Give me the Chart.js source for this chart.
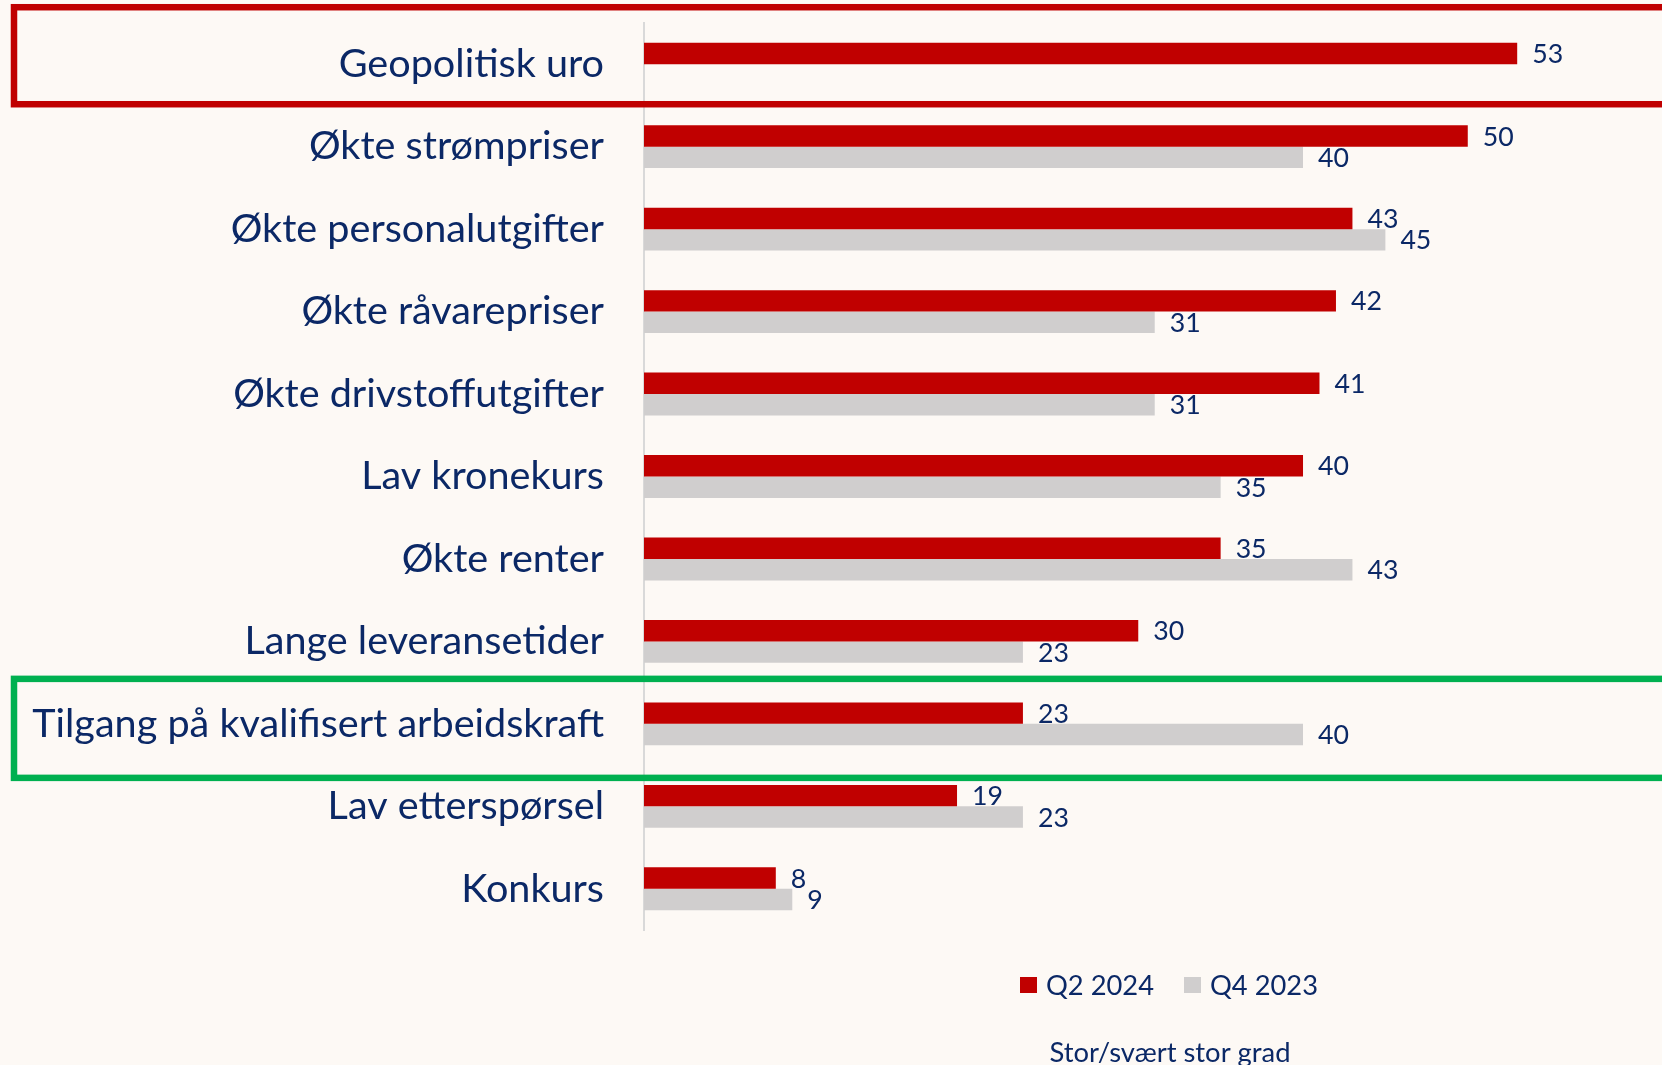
<!DOCTYPE html>
<html>
<head>
<meta charset="utf-8">
<script src="https://cdn.jsdelivr.net/npm/chart.js@4.4.1/dist/chart.umd.min.js"></script>
<style>
html, body { margin: 0; padding: 0; background: #fdf9f5; }
#wrap { width: 1662px; height: 1065px; position: relative; }
</style>
</head>
<body>
<div id="wrap"><canvas id="canvas"></canvas></div>
<script>
var categories = [
    'Geopolitisk uro',
    'Økte strømpriser',
    'Økte personalutgifter',
    'Økte råvarepriser',
    'Økte drivstoffutgifter',
    'Lav kronekurs',
    'Økte renter',
    'Lange leveransetider',
    'Tilgang på kvalifisert arbeidskraft',
    'Lav etterspørsel',
    'Konkurs'
];
var q2_2024 = [53, 50, 43, 42, 41, 40, 35, 30, 23, 19, 8];
var q4_2023 = [null, 40, 45, 31, 31, 35, 43, 23, 40, 23, 9];
var seriesNames = ['Q2 2024', 'Q4 2023'];
var axisTitle = 'Stor/svært stor grad';

var red = '#c00000',
    gray = '#d0cece',
    green = '#00b050',
    navy = '#0b2866',
    family = 'Lato, "Open Sans", sans-serif';

// pick font sizes so the text widths match the picture
function fitFont(text, width) {
    var c = document.createElement('canvas').getContext('2d');
    c.font = '100px ' + family;
    return Math.round(100 * width / c.measureText(text).width * 10) / 10;
}
var labelSize = fitFont('Tilgang på kvalifisert arbeidskraft', 572);
var valueSize = fitFont('53', 31);
var legendSize = fitFont('Q2 2024', 108);
var titleSize = fitFont(axisTitle, 241);

// frames around the highlighted rows
var boxes = [
    { index: 0, color: red, up: 57, down: 40 },
    { index: 8, color: green, up: 45, down: 54 }
];

var boxPlugin = {
    id: 'boxes',
    afterDraw: function(chart) {
        var ctx = chart.ctx, y = chart.scales.y;
        ctx.save();
        ctx.lineWidth = 6.5;
        boxes.forEach(function(b) {
            var c = y.getPixelForValue(b.index);
            ctx.strokeStyle = b.color;
            ctx.strokeRect(14, c - b.up, chart.width + 20, b.up + b.down);
        });
        ctx.restore();
    }
};

var valuePlugin = {
    id: 'values',
    afterDatasetsDraw: function(chart) {
        var ctx = chart.ctx;
        ctx.save();
        ctx.fillStyle = navy;
        ctx.font = valueSize + 'px ' + family;
        ctx.textAlign = 'left';
        ctx.textBaseline = 'middle';
        chart.data.datasets.forEach(function(ds, i) {
            chart.getDatasetMeta(i).data.forEach(function(el, j) {
                if (ds.data[j] === null) return;
                ctx.fillText(ds.data[j], el.x + 15, el.y + 1);
            });
        });
        ctx.restore();
    }
};

var legendPlugin = {
    id: 'legendTitle',
    afterDraw: function(chart) {
        var ctx = chart.ctx;
        var xs = [1020, 1184];
        ctx.save();
        ctx.textBaseline = 'middle';
        ctx.textAlign = 'left';
        ctx.font = legendSize + 'px ' + family;
        chart.data.datasets.forEach(function(ds, i) {
            ctx.fillStyle = ds.backgroundColor;
            ctx.fillRect(xs[i], 977, 17, 16);
            ctx.fillStyle = navy;
            ctx.fillText(ds.label, xs[i] + 26, 986);
        });
        ctx.font = titleSize + 'px ' + family;
        ctx.textAlign = 'center';
        ctx.textBaseline = 'alphabetic';
        ctx.fillText(axisTitle, 1170, 1062);
        ctx.restore();
    }
};

var ctx = document.getElementById('canvas').getContext('2d');
new Chart(ctx, {
    type: 'bar',
    data: {
        labels: categories,
        datasets: [{
            label: seriesNames[0],
            data: q2_2024,
            backgroundColor: red,
            categoryPercentage: 0.52,
            barPercentage: 1
        }, {
            label: seriesNames[1],
            data: q4_2023,
            backgroundColor: gray,
            categoryPercentage: 0.52,
            barPercentage: 1
        }]
    },
    options: {
        indexAxis: 'y',
        responsive: true,
        maintainAspectRatio: false,
        animation: false,
        layout: { padding: { top: 23, bottom: 135, left: 0, right: 13 } },
        plugins: {
            legend: { display: false },
            tooltip: { enabled: false }
        },
        scales: {
            x: { display: false, min: 0, max: 61 },
            y: {
                grid: { display: false, drawTicks: false },
                border: { display: true, color: '#d9d9d9', width: 2 },
                ticks: {
                    color: navy,
                    padding: 40,
                    font: { family: family, size: labelSize }
                },
                afterFit: function(scale) {
                    scale.width = 644;
                    scale.paddingTop = 0;
                    scale.paddingBottom = 0;
                }
            }
        }
    },
    plugins: [boxPlugin, valuePlugin, legendPlugin]
});
</script>
</body>
</html>
